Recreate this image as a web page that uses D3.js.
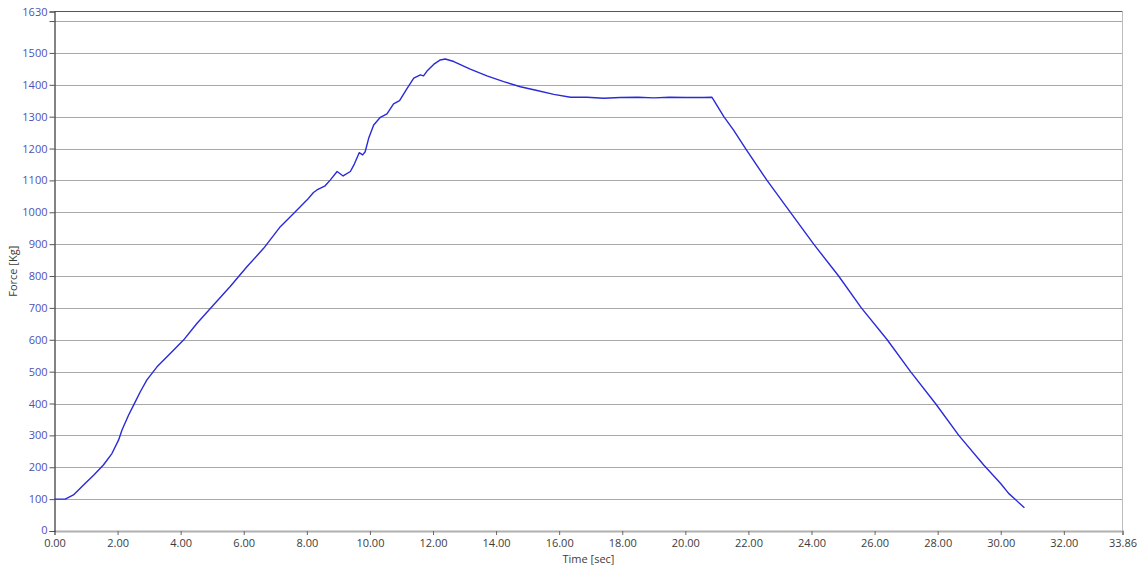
<!DOCTYPE html>
<html><head><meta charset="utf-8">
<script src="https://cdn.jsdelivr.net/npm/d3@7"></script>
<style>
body{margin:0;background:#fff;}
svg{display:block;font-family:"Open Sans","Noto Sans",sans-serif;}
</style></head>
<body><svg id="c" width="1140" height="568"></svg>
<script>
const timeSec = [0, 0.34, 0.60, 0.92, 1.24, 1.55, 1.82, 2.03, 2.14, 2.35, 2.56, 2.72, 2.93, 3.25, 3.67, 4.09, 4.52, 5.04, 5.57, 6.10, 6.63, 7.16, 7.69, 8.01, 8.21, 8.32, 8.58, 8.74, 8.96, 9.15, 9.38, 9.51, 9.66, 9.77, 9.85, 9.96, 10.12, 10.33, 10.54, 10.75, 10.94, 11.18, 11.39, 11.60, 11.70, 11.81, 12.02, 12.23, 12.39, 12.66, 13.18, 13.71, 14.24, 14.77, 15.30, 15.83, 16.36, 16.88, 17.41, 17.94, 18.50, 19.00, 19.50, 20.00, 20.58, 20.84, 20.90, 21.22, 21.53, 21.91, 22.59, 23.28, 24.07, 24.86, 25.58, 26.40, 27.14, 27.93, 28.67, 29.46, 29.99, 30.25, 30.75];
const forceKg = [100, 100, 113, 144, 175, 207, 243, 285, 317, 364, 405, 437, 474, 515, 557, 599, 652, 709, 767, 829, 887, 955, 1007, 1039, 1062, 1070, 1083, 1101, 1128, 1114, 1128, 1152, 1187, 1180, 1190, 1232, 1274, 1298, 1309, 1340, 1350, 1389, 1421, 1431, 1428, 1443, 1464, 1478, 1481, 1473, 1449, 1428, 1410, 1394, 1382, 1370, 1361, 1361, 1358, 1360, 1361, 1359, 1361, 1360, 1360, 1361, 1352, 1300, 1258, 1200, 1100, 1007, 900, 800, 700, 600, 500, 400, 300, 207, 150, 118, 73];
const xTicks = [0, 2, 4, 6, 8, 10, 12, 14, 16, 18, 20, 22, 24, 26, 28, 30, 32, 33.86];
const yTicks = [0, 100, 200, 300, 400, 500, 600, 700, 800, 900, 1000, 1100, 1200, 1300, 1400, 1500, 1630];
const yGrid = [100, 200, 300, 400, 500, 600, 700, 800, 900, 1000, 1100, 1200, 1300, 1400, 1500, 1600];
const yTickMarks = [0, 100, 200, 300, 400, 500, 600, 700, 800, 900, 1000, 1100, 1200, 1300, 1400, 1500, 1600, 1630];

const svg = d3.select("#c");
const L = 54.5, R = 1122.5, T = 11.5, B = 531;
const x = d3.scaleLinear().domain([0, 33.86]).range([L, R]);
const y = d3.scaleLinear().domain([0, 1630]).range([B, T]);

// grid
svg.append("g").selectAll("line").data(yGrid).join("line")
  .attr("x1", L).attr("x2", R)
  .attr("y1", d => Math.round(y(d)) + 0.5).attr("y2", d => Math.round(y(d)) + 0.5)
  .attr("stroke", "#a8a8a8").attr("stroke-width", 1);

// frame: top dark, right light
svg.append("line").attr("x1", L).attr("x2", R).attr("y1", T).attr("y2", T).attr("stroke", "#555").attr("stroke-width", 1);
svg.append("line").attr("x1", R).attr("x2", R).attr("y1", T).attr("y2", B).attr("stroke", "#bdbdbd").attr("stroke-width", 1);

// x axis
const xAxis = d3.axisBottom(x).tickValues(xTicks).tickFormat(d => d.toFixed(2)).tickSizeOuter(0).tickSize(4).tickPadding(4);
const gx = svg.append("g").attr("transform", `translate(0,${B})`).call(xAxis);
gx.select(".domain").attr("stroke", "#b0b0b0").attr("stroke-width", 2);
gx.selectAll(".tick line").attr("stroke", "#666");
gx.selectAll(".tick text").attr("fill", "#3c3c3c").attr("font-size", 11).attr("font-family", "Open Sans, Noto Sans, sans-serif");

// y axis
const yAxis = d3.axisLeft(y).tickValues(yTickMarks).tickFormat(d => yTicks.includes(d) ? String(d) : "").tickSizeOuter(0).tickSize(5).tickPadding(2);
const gy = svg.append("g").attr("transform", `translate(${L},0)`).call(yAxis);
gy.select(".domain").attr("stroke", "#333").attr("stroke-width", 1.2);
gy.selectAll(".tick line").attr("stroke", "#555");
gy.selectAll(".tick text").attr("fill", "#5050b8").attr("font-size", 11).attr("font-family", "Open Sans, Noto Sans, sans-serif");
gy.selectAll(".tick").filter(d => d === 0).select("text").attr("dy", "0.22em");

// line
const data = timeSec.map((t, i) => [t, forceKg[i]]);
svg.append("path").datum(data)
  .attr("d", d3.line().x(d => x(d[0])).y(d => y(d[1])))
  .attr("fill", "none").attr("stroke", "#2a2ad8").attr("stroke-width", 1.4).attr("stroke-linejoin", "round");

// titles
svg.append("text").attr("x", (L + R) / 2).attr("y", 563).attr("text-anchor", "middle")
  .attr("font-size", 11).attr("fill", "#3c3c3c").text("Time [sec]");
svg.append("text").attr("transform", `translate(17,${(T + B) / 2}) rotate(-90)`).attr("text-anchor", "middle")
  .attr("font-size", 11).attr("fill", "#3c3c3c").text("Force [Kg]");
</script></body></html>
